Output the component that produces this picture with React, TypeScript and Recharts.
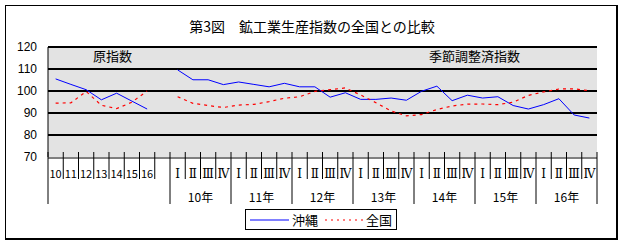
import { LineChart, Line, XAxis, YAxis, CartesianGrid, ReferenceLine, Legend } from 'recharts';

const FONT = '"Noto Sans CJK JP", sans-serif';

// 原指数（暦年）
const ANNUAL_LABELS = ['10', '11', '12', '13', '14', '15', '16'];
const OKINAWA_ANNUAL = [105.5, 103.0, 100.6, 96.0, 99.0, 95.4, 91.8];
const ZENKOKU_ANNUAL = [94.5, 94.6, 99.8, 93.5, 92.0, 94.9, 100.0];

// 季節調整済指数（四半期）
const YEAR_LABELS = ['10年', '11年', '12年', '13年', '14年', '15年', '16年'];
const QUARTER_LABELS = ['Ⅰ', 'Ⅱ', 'Ⅲ', 'Ⅳ'];
const OKINAWA_QUARTERLY = [
  109.6, 105.1, 105.1, 102.9,
  104.1, 103.0, 101.9, 103.5,
  101.9, 101.9, 97.2, 99.2,
  96.2, 96.2, 96.8, 95.8,
  99.9, 102.2, 95.6, 98.1,
  96.8, 97.4, 93.4, 91.8,
  93.8, 96.5, 89.1, 87.7,
];
const ZENKOKU_QUARTERLY = [
  97.4, 94.4, 93.4, 92.5,
  93.6, 93.9, 95.2, 96.7,
  97.4, 99.8, 100.6, 101.4,
  98.2, 94.7, 90.9, 88.7,
  89.3, 91.6, 93.2, 94.0,
  94.1, 93.8, 94.9, 98.0,
  99.6, 100.9, 101.0, 100.1,
];

const Y_TICKS = [70, 80, 90, 100, 110, 120];
const GRID_VALUES = [80, 90, 100, 110, 120];

const CATEGORIES = [...ANNUAL_LABELS, '', ...YEAR_LABELS.flatMap(() => QUARTER_LABELS)];
const Q_START = ANNUAL_LABELS.length + 1;

const data = CATEGORIES.map((label, i) => ({
  x: i,
  label,
  okinawa: i < ANNUAL_LABELS.length ? OKINAWA_ANNUAL[i] : i >= Q_START ? OKINAWA_QUARTERLY[i - Q_START] : null,
  zenkoku: i < ANNUAL_LABELS.length ? ZENKOKU_ANNUAL[i] : i >= Q_START ? ZENKOKU_QUARTERLY[i - Q_START] : null,
}));

const catTicks = CATEGORIES.map((_, i) => i);
const boundaryTicks = [...CATEGORIES.map((_, i) => i - 0.5), CATEGORIES.length - 0.5];
const longBoundaries = new Set([-0.5, ...YEAR_LABELS.map((_, k) => Q_START + k * 4 - 0.5), CATEGORIES.length - 0.5]);
const yearTicks = YEAR_LABELS.map((_, k) => Q_START + k * 4 + 1.5);
const DOMAIN: [number, number] = [-0.5, CATEGORIES.length - 0.5];

// axes are stacked 1px apart below the plot: cat at +0, bound at +1, year at +2
const BoundaryTick = (props: any) => {
  const { x, y, payload } = props;
  const long = longBoundaries.has(payload.value);
  return <line x1={x} x2={x} y1={y - 5} y2={y + (long ? 47 : 22)} stroke="#000" strokeWidth={1} />;
};

const CategoryTick = (props: any) => {
  const { x, y, payload } = props;
  const label = CATEGORIES[payload.value];
  const roman = payload.value >= Q_START;
  return (
    <text x={x} y={y + 20} textAnchor="middle" fontSize={roman ? 12 : 11} fill="#000"
      fontFamily={roman ? '"DejaVu Serif", serif' : FONT}>
      {label}
    </text>
  );
};

const YearTick = (props: any) => {
  const { x, y, payload } = props;
  const k = yearTicks.indexOf(payload.value);
  return (
    <text x={x} y={y + 43} textAnchor="middle" fontSize={12} fill="#000" fontFamily={FONT}>
      {YEAR_LABELS[k]}
    </text>
  );
};

const LegendBox = () => (
  <div style={{
    border: '1px solid #000', background: '#fff', height: 21, width: 152, boxSizing: 'border-box',
    display: 'flex', alignItems: 'center', fontSize: 13, fontFamily: FONT, color: '#000',
  }}>
    <svg width={46} height={10}><line x1={4} x2={43} y1={5} y2={5} stroke="#0000ff" strokeWidth={1} /></svg>
    <span>沖縄</span>
    <svg width={48} height={10}><line x1={7} x2={45} y1={5} y2={5} stroke="#ff0000" strokeWidth={1.2} strokeDasharray="2 4" /></svg>
    <span>全国</span>
  </div>
);

export default function App() {
  return (
    <div style={{ position: 'absolute', left: 0, top: 0, width: 624, height: 245, background: '#fff', fontFamily: FONT }}>
      <div style={{
        position: 'absolute', left: 5, top: 5, width: 610, height: 232,
        borderLeft: '1px solid #000', borderTop: '1px solid #000',
        borderRight: '2px solid #000', borderBottom: '2px solid #000',
      }} />
      <div style={{ position: 'absolute', left: 0, width: 624, top: 16, textAlign: 'center', fontSize: 14, color: '#000' }}>
        第3図　鉱工業生産指数の全国との比較
      </div>
      <LineChart width={624} height={245} data={data} margin={{ top: 47, right: 27, left: 8, bottom: 85 }}>
        <CartesianGrid fill="#e3e3e3" fillOpacity={1} stroke="none" horizontal={false} vertical={false} />
        {GRID_VALUES.map((v) => (
          <ReferenceLine key={v} y={v} xAxisId="cat" stroke="#000" strokeWidth={2} />
        ))}
        <XAxis xAxisId="cat" type="number" dataKey="x" domain={DOMAIN} ticks={catTicks} interval={0}
          height={1} tickSize={0} tickMargin={0} axisLine={{ stroke: '#000' }} tickLine={false} tick={<CategoryTick />} />
        <XAxis xAxisId="bound" type="number" dataKey="x" domain={DOMAIN} ticks={boundaryTicks} interval={0}
          height={1} tickSize={0} tickMargin={0} axisLine={false} tickLine={false} tick={<BoundaryTick />} />
        <XAxis xAxisId="year" type="number" dataKey="x" domain={DOMAIN} ticks={yearTicks} interval={0}
          height={1} tickSize={0} tickMargin={0} axisLine={false} tickLine={false} tick={<YearTick />} />
        <YAxis domain={[70, 120]} ticks={Y_TICKS} interval={0} width={40} tickSize={0} tickMargin={11}
          axisLine={{ stroke: '#000' }} tickLine={false}
          tick={{ fontSize: 12, fill: '#000', fontFamily: '"Liberation Sans", Arial, sans-serif' }} />
        <Line xAxisId="cat" type="linear" dataKey="okinawa" name="沖縄" stroke="#0000ff" strokeWidth={1}
          dot={false} connectNulls={false} isAnimationActive={false} />
        <Line xAxisId="cat" type="linear" dataKey="zenkoku" name="全国" stroke="#ff0000" strokeWidth={1.2}
          strokeDasharray="3 4" dot={false} connectNulls={false} isAnimationActive={false} />
        <Legend layout="horizontal" verticalAlign="middle" align="center" content={<LegendBox />}
          wrapperStyle={{ left: 245, top: 209, width: 152, height: 21 }} />
      </LineChart>
      <div style={{ position: 'absolute', left: 93, top: 46, fontSize: 13, color: '#000' }}>原指数</div>
      <div style={{ position: 'absolute', left: 429, top: 46, fontSize: 13, color: '#000' }}>季節調整済指数</div>
    </div>
  );
}
